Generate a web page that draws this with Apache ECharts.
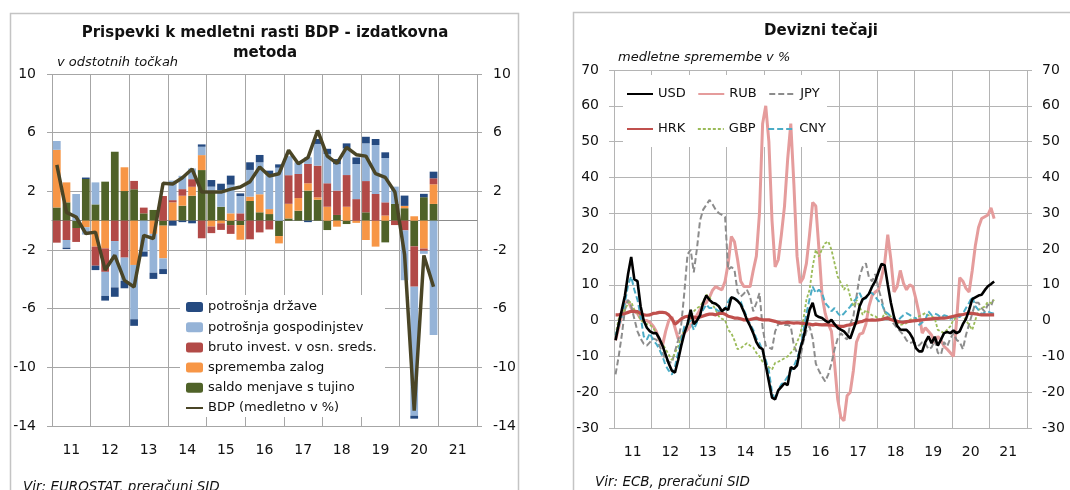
<!DOCTYPE html>
<html><head><meta charset="utf-8">
<script src="https://cdn.jsdelivr.net/npm/echarts@6/dist/echarts.min.js"></script>
<style>html,body{margin:0;padding:0;background:#fff}#c{width:1070px;height:490px}</style>
</head><body><div id="c"></div>
<script>
// ---------- shared categories ----------
const yearLabels = ['11','12','13','14','15','16','17','18','19','20','21'];

// ---------- left chart: contributions to GDP growth (quarters 2011Q1 - 2020Q4) ----------
const gdpLegend = ['potrošnja države','potrošnja gospodinjstev','bruto invest. v osn. sreds.','sprememba zalog','saldo menjave s tujino','BDP (medletno v %)'];
const drzava = [0,-0.1,0,0.1,-0.3,-0.32,-0.64,-0.5,-0.45,-0.34,-0.42,-0.34,-0.34,-0.1,-0.18,0.16,0.45,0.43,0.62,0.18,0.52,0.5,0.23,0.23,0,0,-0.1,0.34,0.35,0.35,0.34,0.45,0.45,0.41,0.39,0,0.7,-0.2,0.23,0.45];
const gospodinjstva = [0.6,-0.52,1.82,-0.5,1.5,-1.64,-3.16,-1.59,-3.7,-2.11,-2.65,-0.73,1.33,0.91,0.73,0.57,0.34,1.14,1.95,1.18,1.82,2.18,2.39,3.61,1.3,0.8,0.45,1.48,2.0,1.8,1.82,2.39,2.57,3.34,3.02,1.18,-3.4,-8.8,-0.2,-7.8];
const investicije = [-1.5,-1.32,-0.95,0,-1.3,-1.6,-1.39,-2.52,0.57,0.39,0,1.68,0.15,0.45,0.52,-1.2,-0.45,-0.45,-0.6,0.5,-1.27,-0.8,-0.6,0,1.95,1.64,1.32,2.16,1.6,1.66,2.16,1.47,2.13,1.82,0.9,-0.3,-0.66,-2.75,-0.16,0.41];
const zaloge = [3.93,1.36,0,-0.45,-1.77,-1.89,0,1.62,-3.02,0,-0.9,-2.23,1.25,0.68,0.61,1.02,-0.4,-0.18,0.5,-1.0,0.3,1.23,0.34,-0.5,1.0,0.86,0.5,0.16,0.95,-0.41,0.95,-0.15,-1.32,-1.77,0.35,0,0.16,0.3,-1.9,1.34];
const saldo = [0.9,1.25,-0.5,2.84,1.11,2.66,4.7,2.02,2.14,0.5,0.73,-0.34,0,1.02,1.7,3.45,1.98,0.95,-0.3,-0.3,1.34,0.57,0.45,-1.05,0.15,0.68,2.05,1.43,-0.64,0.39,-0.23,0,0.57,0,-1.48,1.14,0.85,-1.75,1.6,1.14];
const bdp = [3.8,0.57,0.25,-0.88,-0.78,-3.36,-2.36,-4.07,-4.52,-1.0,-1.22,2.55,2.5,2.93,3.52,1.95,1.95,1.95,2.15,2.3,2.66,3.66,3.05,3.2,4.8,3.88,4.3,6.15,4.4,3.9,5.0,4.5,4.4,3.2,2.95,1.95,-2.3,-12.95,-2.37,-4.5];

// ---------- right chart: exchange rates, y/y % (monthly Jan 2011 - Feb 2021) ----------
const usd = [-5.5,-1,3,7,13,17.8,11.5,11,4,0,-2,-3,
 -3.5,-3.5,-5,-7,-9.5,-12,-14,-14.5,-11,-7,-3.5,-1,
 3,-1,0,1.5,5,7,5.8,5,4.7,4,2.6,3.5,
 3,6.5,6.2,5.5,4.5,2.5,0.2,-1.5,-3.5,-6,-7.5,-8,
 -12.5,-17,-21.5,-22,-19.5,-18.5,-17.5,-18,-13,-13.5,-12.5,-8,
 -5,-1,3,5,1.5,1,0.7,0,-0.5,0.2,-1,-2,
 -2.5,-3,-4,-5,-2.5,0,4,6,6.5,7.5,9.5,11,
 13.5,15.8,15.5,10,5,1,-1.5,-2.5,-2.6,-2.6,-3.5,-5,
 -7.7,-8.6,-8.6,-6,-4.4,-6.3,-4.5,-7,-5.3,-3.5,-3.2,-3.5,
 -2.8,-3.5,-3,-1,0.5,3,6,6.5,7,7.2,8.5,9.6,
 10.2,10.9];
const rub = [-5.5,-2,1.5,5,5.5,3.5,2.5,2,0.5,0,0,-0.5,
 -1.5,-3,-5.5,-7,-3,0,1,-2,-5,-4.5,-3.5,-2.5,
 -1.5,0,1.5,3,4.5,5,6.5,8.5,9.5,9,8.6,11,
 16,23.5,22,17,11,9.5,9.5,9.5,14,18,30,55,
 60,50,28,15,17,24,32,45,55,38,18,10.5,
 12,16,24,33,32,20,7,2,-1,-3,-12,-22,
 -27,-28,-21,-20,-14,-6,-3.8,-3.5,-1,4,7,8,
 8.6,12,16,24,17,8,9.5,14,10.5,8.6,10,9.5,
 6,2,-3.5,-2,-3,-4,-6.3,-4.4,-5.5,-7.2,-8,-9,
 -10,0,12,11,9,8,14,21,26,28.5,29,29.5,
 31.5,28.5];
const jpy = [-15,-10,-4,3,5.8,4,0.5,-3,-5,-6.5,-7,-6,
 -5,-5.3,-7,-9,-11,-11.5,-11.8,-8.5,-5.5,-1,8,18.5,
 19.8,13.5,20,28,31,32.3,33.7,32.5,31,30,29.5,29,
 14.2,15,14.2,8,6.7,7.5,8.6,6.7,2.6,4.9,7.7,-2,
 -7,-7.5,-8,-3,-1,-0.7,-1.2,-1.2,-1.6,-7,-9,-10.5,
 -6,-3,-1.6,-5,-12,-14,-15.6,-17,-15,-12,-8,-5,
 -3.5,-4.5,-5.3,-1,1.2,6.7,12.3,15,16,12,11,13,
 9,6,2.6,1,0,-1,-2.1,-3,-4,-5.5,-6.3,-6,
 -6.3,-7,-6,-6.3,-8,-7.5,-5.5,-9,-9.5,-6,-7.2,-5,
 -3.5,-5.4,-6,-8,-4,-1,2,5,5,3.5,2.5,4.5,
 4,6.5];
const hrk = [1.6,1.6,1.8,2,2.3,2.6,2.6,2.5,2,1.6,1.5,1.6,
 2,2.1,2.3,2.3,2.2,1.6,0.5,-1,-0.3,0.5,1,1.2,
 0.8,1,0.8,1,1.3,1.6,1.8,1.8,1.6,2,2.1,1.8,
 1.2,1,0.7,0.7,0.5,0.2,0.2,0.3,0.5,0.7,0.4,0.2,
 0.2,0.2,0,-0.2,-0.5,-0.7,-0.6,-0.5,-0.6,-0.7,-0.6,-0.7,
 -0.8,-0.9,-1,-1.2,-1,-1.1,-1.2,-1.1,-1.2,-1.3,-1.4,-1.5,
 -1.6,-1.6,-1.3,-1.2,-0.9,-0.7,-0.4,-0.2,0.2,0.1,0.2,0.1,
 0.2,0.3,0.6,0.7,0.3,0,-0.2,-0.4,-0.5,-0.3,-0.2,-0.1,
 0,0.1,0.2,0.3,0.4,0.5,0.6,0.6,0.7,0.7,0.8,1,
 1.2,1.4,1.6,1.7,1.9,2.1,2,1.9,1.7,1.6,1.6,1.6,
 1.6,1.6];
const gbp = [-4,0.5,2,3,4.9,5.3,3,2.1,0.2,-0.5,-1,-1.2,
 -2,-3.5,-5.3,-6.5,-8,-9.5,-11,-9,-7.2,-4.4,-2.6,-1.6,
 1,2.6,3.5,4,5.3,7.2,6.7,4.5,3,1.2,0.5,0.2,
 -2.6,-3.5,-5.5,-8,-7.7,-7,-6.3,-7,-7.5,-9,-10,-11.5,
 -12.5,-13,-13.7,-11.8,-11.5,-11,-10.5,-10,-9,-8.1,-6,-4,
 0.2,5.8,8.6,15,19.8,17.9,20,21.6,22.1,19.8,16,12.3,
 10.5,8.6,10,6.7,3.9,5.8,3.9,1.6,3,2.1,1.5,1.2,
 0.5,0.2,2.1,1.5,1.2,0.2,-0.5,-1.2,-1,-0.7,0.2,0.5,
 0.7,1.2,1.6,2.1,1.5,1.2,0.7,-2.6,-3,-3.5,-2.5,-1.6,
 0.2,1,2,1.6,0,-1.2,-2.6,0.2,3,3.5,3.9,5.3,
 4.9,5.8];
const cny = [-4,-1.5,1.2,5,10,12.3,8.6,5.8,1.2,-4.4,-5.3,-3.5,
 -5.5,-6.5,-8,-10,-12.5,-14,-15.1,-12.8,-9,-5.3,-1.6,-0.7,
 0,-2.6,-0.5,1.2,3,4.5,3.5,3.5,3.2,2.6,2.8,3,
 5.3,6.7,6.2,5.8,5.3,3,1,-1,-2.6,-5,-6.3,-8.5,
 -11,-14,-20,-22,-19.3,-17.8,-17,-15.6,-14,-12.8,-10.5,-8,
 -3,2,6,9.5,7.7,8.6,7.7,4.9,3.9,2.6,3.5,2.1,
 1.2,2,3,3.9,5.3,6.2,7.7,5.8,6.2,7.7,7.7,6.7,
 5.5,4.9,2.6,2,1.2,0.5,-0.2,0.7,1.5,2.1,1.6,1,
 0.7,-1.2,-0.5,0.2,2.6,1.5,2,1.6,0.8,1.5,1.2,0.5,
 1,1.5,1,2,3.5,5,6.7,4,3,1.8,2.2,2.6,
 2.1,2];

// ---------- axis category helpers ----------
const quarterCats = [];
yearLabels.forEach(y => { for (let q = 1; q <= 4; q++) quarterCats.push(y + 'Q' + q); });
const monthCats = [];
yearLabels.forEach(y => { for (let m = 1; m <= 12; m++) monthCats.push(y + '-' + m); });
const boundaryCats = [];  // even index = year boundary, odd index = year middle (label)
for (let i = 0; i <= 22; i++) boundaryCats.push(i % 2 === 1 ? yearLabels[(i - 1) / 2] : '');

const FONT = 'DejaVu Sans';
const TXT = '#111';
const GL = '#a6a6a6';
const GR = '#b4b4b4';
const NOSYM = { opacity: 0 };

function valAxis(grid, pos, min, max, step, margin, showSplit, gl) {
  return {
    type: 'value', gridIndex: grid, position: pos, min: min, max: max, interval: step,
    axisLine: { show: false },
    axisTick: { show: true, length: 5, lineStyle: { color: gl } },
    axisLabel: { margin: margin, fontSize: 14, color: TXT, fontFamily: FONT },
    splitLine: { show: showSplit, lineStyle: { color: gl, width: 1 } }
  };
}
function labelAxis(grid, gl) {
  return {
    type: 'category', gridIndex: grid, data: boundaryCats, boundaryGap: false, position: 'bottom',
    axisLine: { show: false, onZero: false }, axisTick: { show: false },
    axisLabel: { interval: (i) => i % 2 === 1, margin: 17, fontSize: 14, color: TXT, fontFamily: FONT },
    splitLine: { show: true, interval: (i) => i % 2 === 0, lineStyle: { color: gl, width: 1 } }
  };
}
function bar(name, data, color) {
  return { name: name, type: 'bar', xAxisIndex: 0, yAxisIndex: 0, stack: 'gdp', barWidth: '80%',
    data: data, itemStyle: { color: color }, z: 2 };
}
function fx(name, data, color, width, dash) {
  return { name: name, type: 'line', xAxisIndex: 2, yAxisIndex: 2, data: data, symbol: 'none',
    lineStyle: { color: color, width: width, type: dash || 'solid' }, itemStyle: { color: color } };
}
function txt(x, y, text, font, align) {
  return { type: 'text', x: x, y: y, z: 10,
    style: { text: text, font: font, fill: TXT, textAlign: align, align: align,
      textVerticalAlign: 'middle', verticalAlign: 'middle' } };
}
const legendText = { fontSize: 13, lineHeight: 14, color: TXT, fontFamily: FONT };

const option = {
  animation: false,
  backgroundColor: '#ffffff',
  grid: [
    { left: 52, top: 74, width: 425, height: 352, outerBoundsMode: 'none', containLabel: false },
    { left: 614, top: 70, width: 413, height: 358, outerBoundsMode: 'none', containLabel: false }
  ],
  xAxis: [
    { type: 'category', gridIndex: 0, data: quarterCats, boundaryGap: true,
      axisLine: { show: true, onZero: true, lineStyle: { color: '#8c8c8c', width: 1 } },
      axisTick: { show: false }, axisLabel: { show: false }, splitLine: { show: false } },
    labelAxis(0, GL),
    { type: 'category', gridIndex: 1, data: monthCats, boundaryGap: true,
      axisLine: { show: false, onZero: false }, axisTick: { show: false }, axisLabel: { show: false },
      splitLine: { show: false } },
    labelAxis(1, GR)
  ],
  yAxis: [
    valAxis(0, 'left', -14, 10, 4, 16, true, GL),
    valAxis(0, 'right', -14, 10, 4, 16, false, GL),
    valAxis(1, 'left', -30, 70, 10, 15, true, GR),
    valAxis(1, 'right', -30, 70, 10, 15, false, GR)
  ],
  legend: [
    { data: gdpLegend.slice(0, 5).concat([{ name: gdpLegend[5], itemStyle: NOSYM }]),
      orient: 'vertical', left: 185, top: 300, padding: 0,
      itemWidth: 17, itemHeight: 10, itemGap: 6.2, selectedMode: false, textStyle: legendText },
    { data: ['USD', 'RUB', 'JPY'].map(n => ({ name: n, itemStyle: NOSYM })),
      orient: 'horizontal', left: 626, top: 87, padding: 0,
      itemWidth: 26, itemHeight: 10, itemGap: 11.5, selectedMode: false, textStyle: legendText },
    { data: ['HRK', 'GBP', 'CNY'].map(n => ({ name: n, itemStyle: NOSYM })),
      orient: 'horizontal', left: 626, top: 122, padding: 0,
      itemWidth: 26, itemHeight: 10, itemGap: 11.5, selectedMode: false, textStyle: legendText }
  ],
  graphic: [
    { type: 'rect', z: 0, shape: { x: 10.5, y: 13.5, width: 508, height: 490 },
      style: { fill: 'none', stroke: '#c4c4c4', lineWidth: 1.5 } },
    { type: 'rect', z: 0, shape: { x: 573.5, y: 12.5, width: 520, height: 490 },
      style: { fill: 'none', stroke: '#c4c4c4', lineWidth: 1.5 } },
    { type: 'rect', z: 3, shape: { x: 180, y: 295, width: 205, height: 122 }, style: { fill: '#fff' } },
    { type: 'rect', z: 3, shape: { x: 623, y: 75, width: 204, height: 72 }, style: { fill: '#fff' } },
    txt(265, 33, 'Prispevki k medletni rasti BDP - izdatkovna', 'bold 15px "DejaVu Sans"', 'center'),
    txt(265, 53, 'metoda', 'bold 15px "DejaVu Sans"', 'center'),
    txt(57, 63, 'v odstotnih točkah', 'italic 13px "DejaVu Sans"', 'left'),
    txt(23, 487, 'Vir: EUROSTAT, preračuni SID', 'italic 13.5px "DejaVu Sans"', 'left'),
    txt(821, 31, 'Devizni tečaji', 'bold 15px "DejaVu Sans"', 'center'),
    txt(618, 58, 'medletne spremembe v %', 'italic 13px "DejaVu Sans"', 'left'),
    txt(595, 482, 'Vir: ECB, preračuni SID', 'italic 13.5px "DejaVu Sans"', 'left')
  ],
  series: [
    bar(gdpLegend[4], saldo, '#4f6228'),
    bar(gdpLegend[3], zaloge, '#f79646'),
    bar(gdpLegend[2], investicije, '#b24a47'),
    bar(gdpLegend[1], gospodinjstva, '#95b3d7'),
    bar(gdpLegend[0], drzava, '#254a80'),
    { name: gdpLegend[5], type: 'line', xAxisIndex: 0, yAxisIndex: 0, data: bdp, symbol: 'none', z: 3,
      lineStyle: { color: '#4a4526', width: 3.5 }, itemStyle: { color: '#4a4526' } },
    fx('RUB', rub, '#e59c9c', 3),
    fx('JPY', jpy, '#8c8c8c', 2, [6, 3]),
    fx('GBP', gbp, '#9bbb59', 1.8, [3, 2]),
    fx('CNY', cny, '#4bacc6', 2, [6, 3]),
    fx('HRK', hrk, '#c0504d', 3.2),
    fx('USD', usd, '#000000', 2.6)
  ]
};
const chart = echarts.init(document.getElementById('c'));
chart.setOption(option);
</script>
</body></html>
